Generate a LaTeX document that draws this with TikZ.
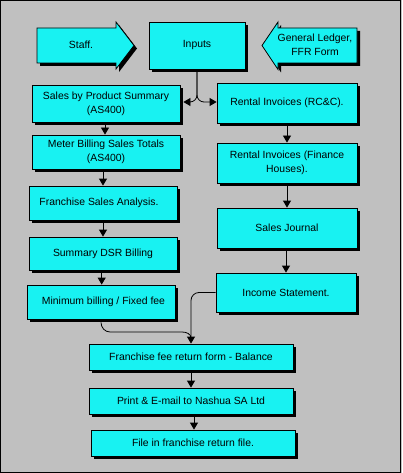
\documentclass[tikz,border=0pt]{standalone}
\usepackage{fontspec}
\setmainfont{Liberation Sans}
\usetikzlibrary{arrows.meta,shadows}
\definecolor{boxcyan}{RGB}{24,242,242}
\definecolor{bggray}{RGB}{192,192,192}
\tikzset{
  box/.style={draw=black, line width=0.8pt, fill=boxcyan, inner sep=0pt, align=center,
    font=\fontsize{10.4}{14}\selectfont,
    drop shadow={shadow xshift=3pt, shadow yshift=-3pt, opacity=1, fill=black}},
  blockarrow/.style={draw=black, line width=0.8pt, fill=boxcyan,
    drop shadow={shadow xshift=3pt, shadow yshift=-3pt, opacity=1, fill=black}},
  lbl/.style={align=center, inner sep=0pt, font=\fontsize{10.4}{14}\selectfont},
  arr/.style={line width=0.8pt, -{Triangle[width=8pt,length=7pt]}},
  conn/.style={line width=0.8pt}
}
\begin{document}
\begin{tikzpicture}[x=1pt,y=-1pt]
\useasboundingbox (0,0) rectangle (402,473);
\fill[bggray] (0,0) rectangle (402,473);
\draw[line width=1pt] (0.5,0.5) rectangle (400.5,472.5);

% block arrows
\filldraw[blockarrow] (37,28) -- (116,28) -- (116,22) -- (134,45.5) -- (116,69) -- (116,63) -- (37,63) -- cycle;
\node[lbl] (staff) at (81,45) {Staff.};
\filldraw[blockarrow] (357,28) -- (278,28) -- (278,22) -- (262,45.5) -- (278,69.5) -- (278,63) -- (357,63) -- cycle;
\node[lbl] (gl) at (315,45) {General Ledger,\\FFR Form};

% boxes
\node[box, minimum width=96pt, minimum height=47pt] (inputs) at (197,45.5) {Inputs};

\node[box, minimum width=148pt, minimum height=37pt] (sales) at (106,103.5) {\raisebox{0pt}{}Sales by Product Summary\\(AS400)};
\node[box, minimum width=148pt, minimum height=34pt] (meter) at (106,152) {Meter Billing Sales Totals\\(AS400)};
\node[box, minimum width=148pt, minimum height=34pt] (fsa) at (103,203) {\hspace*{-8pt}Franchise Sales Analysis.};
\node[box, minimum width=148pt, minimum height=33pt] (dsr) at (103,253.5) {Summary DSR Billing};
\node[box, minimum width=148pt, minimum height=34pt] (minb) at (101,302) {\hspace*{5pt}Minimum billing / Fixed fee};

\node[box, minimum width=140pt, minimum height=40pt] (rc) at (287,103) {Rental Invoices (RC\&C).};
\node[box, minimum width=140pt, minimum height=40pt] (fh) at (287,163) {Rental Invoices (Finance\\Houses).};
\node[box, minimum width=140pt, minimum height=40pt] (sj) at (287,228) {Sales Journal};
\node[box, minimum width=140pt, minimum height=39pt] (inc) at (286,292.5) {Income Statement.};

\node[box, minimum width=204pt, minimum height=26pt] (fee) at (191,357) {Franchise fee return form - Balance};
\node[box, minimum width=204pt, minimum height=26pt] (prn) at (191,401) {Print \& E-mail to Nashua SA Ltd};
\node[box, minimum width=204pt, minimum height=26pt] (fil) at (193,443) {File in franchise return file.};

% connectors
\draw[arr, rounded corners=7pt] (inputs.south) |- ([xshift=3pt]sales.east |- 0,102);
\draw[arr, rounded corners=7pt] (inputs.south) |- (rc.west |- 0,102);

\draw[arr] ([yshift=-3pt]sales.south -| 105,0) -- (meter.north -| 105,0);
\draw[arr] ([yshift=-3pt]meter.south -| fsa.north) -- (fsa.north);
\draw[arr] ([yshift=-3pt]fsa.south) -- (dsr.north);
\draw[arr] ([yshift=-3pt]dsr.south -| 101.7,0) -- (minb.north -| 101.7,0);

\draw[arr] ([yshift=-3pt]rc.south) -- (fh.north);
\draw[arr] ([yshift=-3pt]fh.south) -- (sj.north);
\draw[arr] ([yshift=-3pt]sj.south -| inc.north) -- (inc.north);

\coordinate (merge) at (191,338);
\draw[arr, rounded corners=8pt] (inc.west) -| (fee.north);
\draw[conn] ([yshift=-3pt]minb.south) to[out=-90,in=180] (110,332) -- (182,332) to[out=0,in=90] (merge);

\draw[arr] ([yshift=-3pt]fee.south) -- (prn.north);
\draw[arr] ([yshift=-3pt]prn.south -| 194,0) -- (fil.north -| 194,0);
\end{tikzpicture}
\end{document}
